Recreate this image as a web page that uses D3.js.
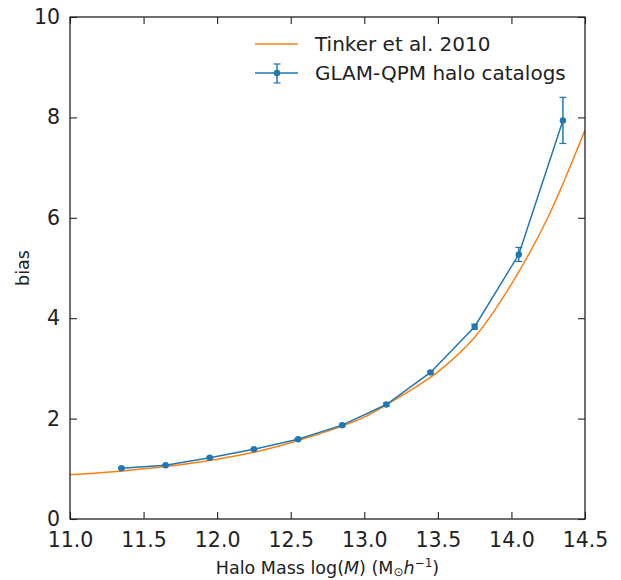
<!DOCTYPE html>
<html>
<head>
<meta charset="utf-8">
<script src="https://cdn.jsdelivr.net/npm/d3@7"></script>
<style>
  body { margin: 0; background: #fff; }
  text { font-family: "DejaVu Sans", sans-serif; fill: #222; }
</style>
</head>
<body>
<div id="chart"></div>
<script>
// data
var massBins = [11.35, 11.65, 11.95, 12.25, 12.55, 12.85, 13.15, 13.45, 13.75, 14.05, 14.35];
var glamBias = [1.01, 1.07, 1.22, 1.39, 1.59, 1.87, 2.28, 2.92, 3.83, 5.27, 7.94];
var glamErr  = [0.01, 0.01, 0.01, 0.01, 0.01, 0.02, 0.03, 0.03, 0.05, 0.14, 0.46];

var tinkerMass = [11.0, 11.25, 11.5, 11.75, 12.0, 12.25, 12.5, 12.75, 13.0, 13.25, 13.5, 13.75, 14.0, 14.25, 14.5];
var tinkerBias = [0.88, 0.93, 1.00, 1.08, 1.19, 1.33, 1.52, 1.75, 2.03, 2.45, 2.93, 3.62, 4.68, 6.02, 7.75];

var xTicks = [11.0, 11.5, 12.0, 12.5, 13.0, 13.5, 14.0, 14.5];
var yTicks = [0, 2, 4, 6, 8, 10];

var W = 621, H = 580;
var margin = {top: 17, right: 36, bottom: 61, left: 70};
var width = W - margin.left - margin.right;
var height = H - margin.top - margin.bottom;

var blue = "#1f77b4", orange = "#ff7f0e";

var svg = d3.select("#chart").append("svg")
    .attr("width", W)
    .attr("height", H);

var g = svg.append("g")
    .attr("transform", "translate(" + margin.left + "," + margin.top + ")");

var x = d3.scaleLinear().domain([11.0, 14.5]).range([0, width]);
var y = d3.scaleLinear().domain([0, 10]).range([height, 0]);

g.append("defs").append("clipPath").attr("id", "clip")
  .append("rect").attr("width", width).attr("height", height);

var plot = g.append("g").attr("clip-path", "url(#clip)");

// Tinker curve
var tinker = tinkerMass.map(function(m, i) { return [m, tinkerBias[i]]; });
plot.append("path")
    .datum(tinker)
    .attr("fill", "none")
    .attr("stroke", orange)
    .attr("stroke-width", 1.5)
    .attr("d", d3.line()
        .x(function(d) { return x(d[0]); })
        .y(function(d) { return y(d[1]); })
        .curve(d3.curveMonotoneX));

// GLAM points
var glam = massBins.map(function(m, i) { return {m: m, b: glamBias[i], e: glamErr[i]}; });

plot.append("path")
    .datum(glam)
    .attr("fill", "none")
    .attr("stroke", blue)
    .attr("stroke-width", 1.5)
    .attr("d", d3.line()
        .x(function(d) { return x(d.m); })
        .y(function(d) { return y(d.b); }));

var eb = plot.selectAll(".eb").data(glam).enter().append("g").attr("class", "eb");
eb.append("line")
    .attr("x1", function(d) { return x(d.m); })
    .attr("x2", function(d) { return x(d.m); })
    .attr("y1", function(d) { return y(d.b - d.e); })
    .attr("y2", function(d) { return y(d.b + d.e); })
    .attr("stroke", blue).attr("stroke-width", 1.5);
eb.selectAll(".cap").data(function(d) { return [d.b - d.e, d.b + d.e].map(function(v) { return {m: d.m, v: v}; }); })
  .enter().append("line")
    .attr("x1", function(d) { return x(d.m) - 3.5; })
    .attr("x2", function(d) { return x(d.m) + 3.5; })
    .attr("y1", function(d) { return y(d.v); })
    .attr("y2", function(d) { return y(d.v); })
    .attr("stroke", blue).attr("stroke-width", 1.2);
eb.append("circle")
    .attr("cx", function(d) { return x(d.m); })
    .attr("cy", function(d) { return y(d.b); })
    .attr("r", 3.2)
    .attr("fill", blue);

// axes, ticks inside on all four sides
var tickLen = 7;
var xb = g.append("g").attr("transform", "translate(0," + height + ")")
    .call(d3.axisBottom(x).tickValues(xTicks).tickFormat(d3.format(".1f"))
        .tickSizeInner(-tickLen).tickSizeOuter(0).tickPadding(13));
var yl = g.append("g")
    .call(d3.axisLeft(y).tickValues(yTicks).tickFormat(d3.format("d"))
        .tickSizeInner(-tickLen).tickSizeOuter(0).tickPadding(10));
var xt = g.append("g")
    .call(d3.axisTop(x).tickValues(xTicks).tickFormat("").tickSizeInner(-tickLen).tickSizeOuter(0));
var yr = g.append("g").attr("transform", "translate(" + width + ",0)")
    .call(d3.axisRight(y).tickValues(yTicks).tickFormat("").tickSizeInner(-tickLen).tickSizeOuter(0));

[xb, yl, xt, yr].forEach(function(a) {
  a.select(".domain").remove();
  a.selectAll("line").attr("stroke", "#222").attr("stroke-width", 1.1);
  a.selectAll("text").style("font-size", "20.5px").attr("fill", "#222");
});

g.append("rect")
    .attr("width", width).attr("height", height)
    .attr("fill", "none").attr("stroke", "#222").attr("stroke-width", 1.3);

// axis labels
var xlab = svg.append("text")
    .attr("x", margin.left + width / 2)
    .attr("y", 574)
    .attr("text-anchor", "middle")
    .style("font-size", "17.5px");
xlab.append("tspan").text("Halo Mass log(");
xlab.append("tspan").style("font-style", "italic").text("M");
xlab.append("tspan").text(") (M");
xlab.append("tspan").attr("dy", 2).style("font-size", "12px").text("\u2299");
xlab.append("tspan").attr("dy", -2).style("font-style", "italic").text("h");
xlab.append("tspan").attr("dy", -7).style("font-size", "12px").text("\u22121");
xlab.append("tspan").attr("dy", 7).text(")");

svg.append("text")
    .attr("transform", "translate(29," + (margin.top + height / 2) + ") rotate(-90)")
    .attr("text-anchor", "middle")
    .style("font-size", "17.5px")
    .text("bias");

// legend
var leg = svg.append("g").attr("transform", "translate(255,44)");
leg.append("line").attr("x1", 0).attr("x2", 43).attr("y1", 0).attr("y2", 0)
    .attr("stroke", orange).attr("stroke-width", 1.5);
leg.append("text").attr("x", 60).attr("y", 7).style("font-size", "20px").text("Tinker et al. 2010");

var l2 = leg.append("g").attr("transform", "translate(0,29)");
l2.append("line").attr("x1", 0).attr("x2", 43).attr("y1", 0).attr("y2", 0)
    .attr("stroke", blue).attr("stroke-width", 1.5);
l2.append("line").attr("x1", 22).attr("x2", 22).attr("y1", -9).attr("y2", 10)
    .attr("stroke", blue).attr("stroke-width", 1.5);
[-9, 10].forEach(function(v) {
  l2.append("line").attr("x1", 18.5).attr("x2", 25.5).attr("y1", v).attr("y2", v)
      .attr("stroke", blue).attr("stroke-width", 1.2);
});
l2.append("circle").attr("cx", 22).attr("cy", 0).attr("r", 3.2).attr("fill", blue);
l2.append("text").attr("x", 60).attr("y", 7).style("font-size", "20px").text("GLAM-QPM halo catalogs");
</script>
</body>
</html>
